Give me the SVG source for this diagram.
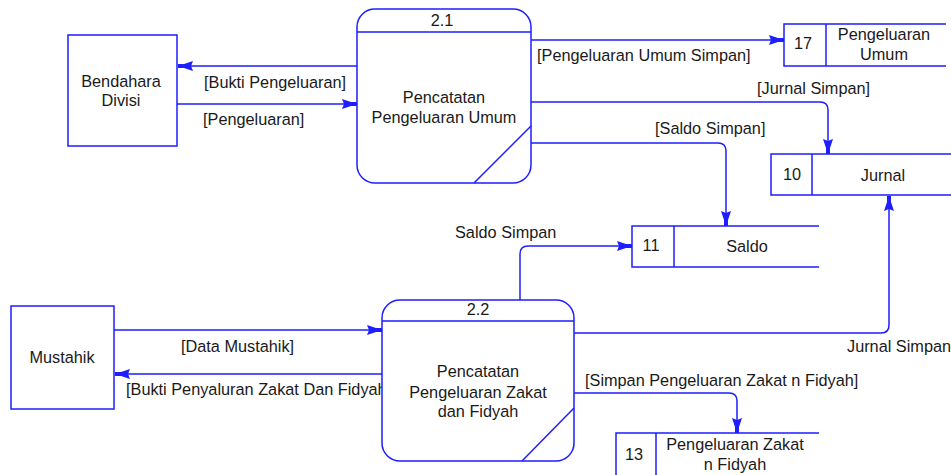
<svg xmlns="http://www.w3.org/2000/svg" width="951" height="475" viewBox="0 0 951 475">
<defs>
<style>
.s{fill:none;stroke:#1e1eff;stroke-width:1.5}
.b{fill:#fff;stroke:#1e1eff;stroke-width:1.5}
.c{fill:none;stroke:#1e1eff;stroke-width:1.5;marker-end:url(#ah)}
text{font-family:"Liberation Sans",Arial,sans-serif;font-size:16.3px;fill:#1a1a1a}
.m{text-anchor:middle}
</style>
<marker id="ah" markerUnits="userSpaceOnUse" viewBox="-16 -6 17 12" refX="0" refY="0" markerWidth="17" markerHeight="12" orient="auto">
<path d="M0,-2 L0,2 L-6,2 L-15,5 L-13,0 L-15,-5 L-6,-2 Z" fill="#1e1eff"/>
</marker>
</defs>
<rect width="951" height="475" fill="#fff"/>
<g id="connectors">
<path class="c" d="M357,66 H178"/>
<path class="c" d="M177,104 H357"/>
<path class="c" d="M531,40 H784"/>
<path class="c" d="M531,102 H820 Q828,102 828,110 V154"/>
<path class="c" d="M531,143 H718 Q726,143 726,151 V226"/>
<path class="c" d="M520,300 V254 Q520,246 528,246 H632"/>
<path class="c" d="M114,330 H382"/>
<path class="c" d="M382,374 H115"/>
<path class="c" d="M574,333 H881 Q889,333 889,325 V196"/>
<path class="c" d="M574,393 H729 Q737,393 737,401 V433"/>
<text x="204" y="88">[Bukti Pengeluaran]</text>
<text x="203" y="125">[Pengeluaran]</text>
<text x="537" y="61">[Pengeluaran Umum Simpan]</text>
<text x="757" y="94">[Jurnal Simpan]</text>
<text x="655" y="134">[Saldo Simpan]</text>
<text x="455" y="238">Saldo Simpan</text>
<text x="181" y="352">[Data Mustahik]</text>
<text x="126" y="395">[Bukti Penyaluran Zakat Dan Fidyah</text>
<text x="847" y="352">Jurnal Simpan</text>
<text x="585" y="386">[Simpan Pengeluaran Zakat n Fidyah]</text>
</g>
<g id="bendahara">
<rect class="b" x="68" y="35" width="109" height="111"/>
<text class="m" x="121" y="87">Bendahara</text>
<text class="m" x="121" y="106">Divisi</text>
</g>
<g id="mustahik">
<rect class="b" x="11" y="306" width="103" height="103"/>
<text class="m" x="62" y="363">Mustahik</text>
</g>
<g id="p21">
<rect class="b" x="357" y="9" width="174" height="174" rx="18"/>
<path class="s" d="M357,32 H531 M531,126 L474,183"/>
<text class="m" x="442" y="26">2.1</text>
<text class="m" x="444" y="103">Pencatatan</text>
<text class="m" x="444" y="123">Pengeluaran Umum</text>
</g>
<g id="p22">
<rect class="b" x="382" y="300" width="192" height="161" rx="18"/>
<path class="s" d="M382,321 H574 M574,408 L522,461"/>
<text class="m" x="478" y="315">2.2</text>
<text class="m" x="478" y="377">Pencatatan</text>
<text class="m" x="478" y="398">Pengeluaran Zakat</text>
<text class="m" x="478" y="417">dan Fidyah</text>
</g>
<g id="ds17">
<path class="s" d="M946,24 H784 V66 H946 M826,24 V66"/>
<text class="m" x="803" y="49">17</text>
<text class="m" x="884" y="40">Pengeluaran</text>
<text class="m" x="884" y="60">Umum</text>
</g>
<g id="ds10">
<path class="s" d="M952,154 H771 V195 H952 M812,154 V195"/>
<text class="m" x="792" y="180">10</text>
<text class="m" x="883" y="181">Jurnal</text>
</g>
<g id="ds11">
<path class="s" d="M819,226 H632 V267 H819 M674,226 V267"/>
<text class="m" x="651" y="251">11</text>
<text class="m" x="747" y="252">Saldo</text>
</g>
<g id="ds13">
<path class="s" d="M819,433 H616 V476 M656,433 V476"/>
<text class="m" x="634" y="460">13</text>
<text class="m" x="735" y="450">Pengeluaran Zakat</text>
<text class="m" x="735" y="470">n Fidyah</text>
</g>
</svg>
